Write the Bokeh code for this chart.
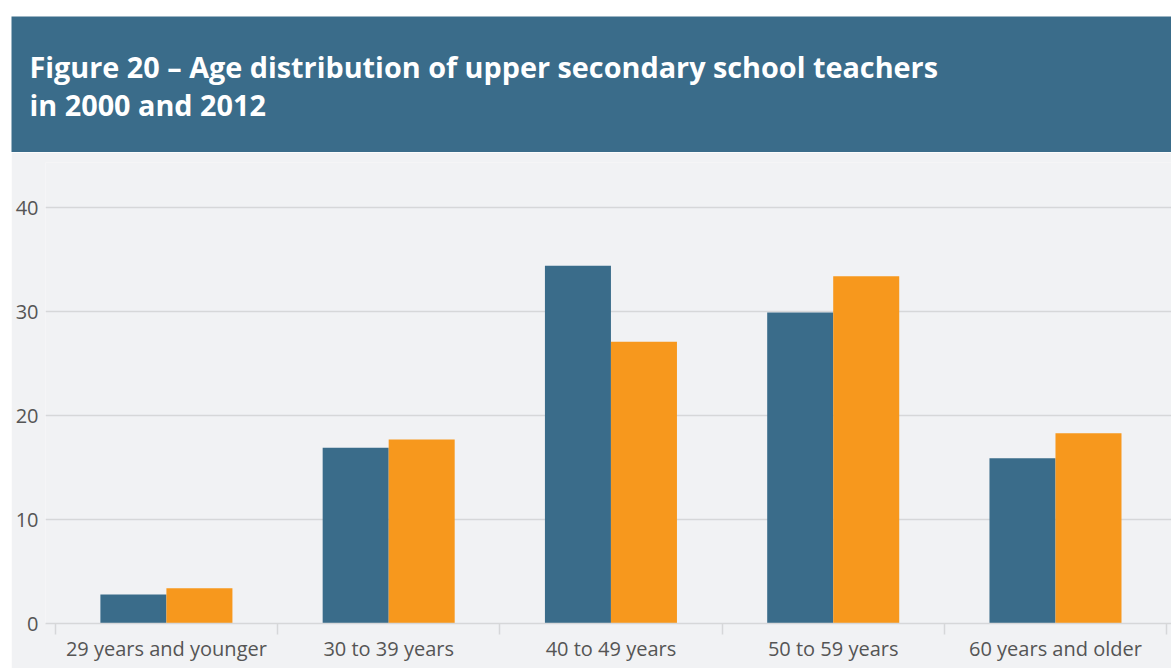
from bokeh.plotting import figure
from bokeh.layouts import column
from bokeh.models import Range1d, FixedTicker, Label, ColumnDataSource
from bokeh.embed import file_html
from bokeh.resources import INLINE

# ---- data ----
categories = ["29 years and younger", "30 to 39 years", "40 to 49 years",
              "50 to 59 years", "60 years and older"]
values_2000 = [2.8, 16.9, 34.4, 29.9, 15.9]
values_2012 = [3.4, 17.7, 27.1, 33.4, 18.3]
y_ticks = [0, 10, 20, 30, 40]
title_line1 = "Figure 20 \u2013 Age distribution of upper secondary school teachers"
title_line2 = "in 2000 and 2012"

BLUE = "#3a6c8a"
ORANGE = "#f7981d"
BG = "#f1f2f4"
GRID = "#d6d7d9"
TEXT = "#555555"
FONT = "Open Sans"

W = 1160
LEFT = 34

# ---- header ----
head = figure(width=W, height=136, x_range=Range1d(0, 1), y_range=Range1d(0, 1),
              toolbar_location=None, output_backend="svg", min_border=0,
              x_axis_location=None, y_axis_location=None)
aligned = "frame_align" in head.properties()
if aligned:
    head.frame_align = False
head_left = 0 if aligned else LEFT
if not aligned:
    head.min_border_left = LEFT
head.grid.visible = False
head.outline_line_color = None
head.background_fill_color = BLUE
head.border_fill_color = BLUE
for txt, yy in [(title_line1, 86), (title_line2, 48)]:
    head.add_layout(Label(x=18 - head_left, y=yy, x_units="screen", y_units="screen", text=txt,
                          text_color="white", text_font=FONT, text_font_style="bold",
                          text_font_size="28.8px", text_baseline="alphabetic"))

# ---- chart ----
n = len(categories)
xs = list(range(n))
bw = 0.297
src = ColumnDataSource(dict(
    x1=[x - bw / 2 for x in xs], x2=[x + bw / 2 for x in xs],
    v1=values_2000, v2=values_2012))

p = figure(width=W, height=516, toolbar_location=None, output_backend="svg",
           x_range=Range1d(-0.544, 4.522), y_range=Range1d(0, 44.33),
           min_border_left=LEFT, min_border_right=0, min_border_top=10, min_border_bottom=45)
if aligned:
    p.frame_align = False
p.background_fill_color = BG
p.border_fill_color = BG
p.outline_line_color = None

p.vbar(x="x1", top="v1", width=bw, source=src, color=BLUE, line_color=None)
p.vbar(x="x2", top="v2", width=bw, source=src, color=ORANGE, line_color=None)

p.xgrid.visible = False
p.ygrid.grid_line_color = GRID
p.ygrid.grid_line_width = 1.5
p.yaxis.ticker = FixedTicker(ticks=y_ticks)
p.yaxis.axis_line_color = None
p.yaxis.major_tick_line_color = None
p.yaxis.minor_tick_line_color = None
p.yaxis.major_tick_out = 0
p.yaxis.major_tick_in = 0
p.yaxis.minor_tick_out = 0
p.yaxis.major_label_standoff = 7
p.yaxis.major_label_text_font = FONT
p.yaxis.major_label_text_font_size = "20px"
p.yaxis.major_label_text_color = TEXT

p.xaxis.ticker = FixedTicker(ticks=xs, minor_ticks=[x - 0.5 for x in xs] + [n - 0.5])
p.xaxis.major_label_overrides = {i: c for i, c in enumerate(categories)}
p.xaxis.axis_line_color = GRID
p.xaxis.axis_line_width = 1.5
p.xaxis.major_tick_line_color = None
p.xaxis.major_tick_out = 0
p.xaxis.major_tick_in = 0
p.xaxis.minor_tick_line_color = GRID
p.xaxis.minor_tick_line_width = 1.5
p.xaxis.minor_tick_out = 11
p.xaxis.minor_tick_in = 0
p.xaxis.major_label_standoff = 0
p.xaxis.major_label_text_font = FONT
p.xaxis.major_label_text_font_size = "20px"
p.xaxis.major_label_text_color = TEXT

layout = column(head, p, spacing=0, margin=(16, 0, 0, 11))
open("out.html", "w").write(file_html(layout, INLINE))
